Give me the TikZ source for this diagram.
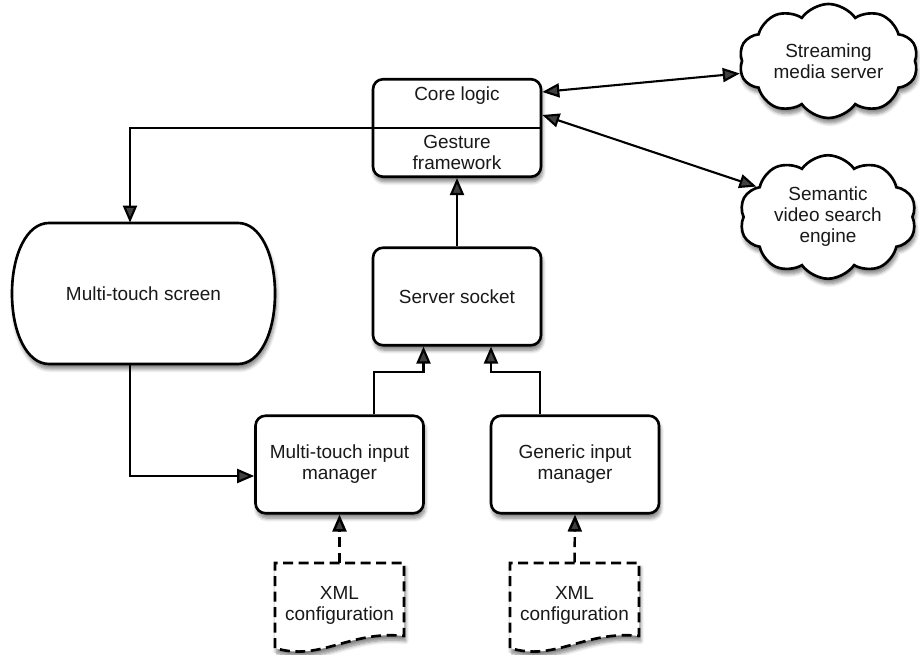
\documentclass[tikz,border=0pt]{standalone}
\usepackage{fontspec}
\setmainfont{Liberation Sans}
\usetikzlibrary{arrows.meta,shapes.symbols,shadows.blur}

\tikzset{
  txt/.style={align=center, text=black!90, font=\fontsize{10.8}{12}\selectfont},
  softshadow/.style={blur shadow={shadow xshift=0.8pt, shadow yshift=-2.8pt, shadow blur steps=7, shadow opacity=50}},
  outline/.style={line width=1.5pt, fill=white, softshadow},
  module/.style={txt, draw, outline, rounded corners=0.2cm,
    minimum width=3.36cm, minimum height=1.95cm},
  service/.style={txt, cloud, cloud puffs=10, cloud puff arc=110, cloud ignores aspect,
    draw, outline},
  link/.style={line width=1.2pt, -{Triangle[length=0.34cm,width=0.28cm]}},
  bilink/.style={line width=1.2pt, {Triangle[length=0.34cm,width=0.28cm]}-{Triangle[length=0.34cm,width=0.28cm]}},
  cfglink/.style={link, line width=1.4pt, dash pattern=on 0.2cm off 0.11cm},
}

\begin{document}
\begin{tikzpicture}
\useasboundingbox (0,0) rectangle (18.4,13.08);

% boxes
\node[module] (core) at (9.14,10.52) {};
\draw[line width=1.2pt] (core.west) -- (core.east);
\node[txt] (corelogic) at (9.14,11.16) {Core logic};
\node[txt] (gesture) at (9.14,10.03) {Gesture\\framework};
\node[module] (socket) at (9.14,7.15) {Server socket};
\node[module] (mtim) at (6.79,3.79) {Multi-touch input\\manager};
\node[module] (geninput) at (11.5,3.79) {Generic input\\manager};

% screen with elliptic ends
\draw[outline] (0.98,8.62) -- (4.76,8.62)
  .. controls (5.2,8.62) and (5.5,8.0) .. (5.5,7.21)
  .. controls (5.5,6.42) and (5.2,5.8) .. (4.76,5.8)
  -- (0.98,5.8)
  .. controls (0.54,5.8) and (0.24,6.42) .. (0.24,7.21)
  .. controls (0.24,8.0) and (0.54,8.62) .. (0.98,8.62) -- cycle;
\node[txt, minimum width=5.26cm, minimum height=2.82cm] (screen) at (2.87,7.21) {Multi-touch screen};

% clouds
\node[service, minimum width=3.58cm, minimum height=2.28cm] (stream) at (16.57,11.86) {Streaming\\media server};
\node[service, minimum width=3.4cm, minimum height=2.2cm] (semantic) at (16.56,8.74) {Semantic\\video search\\engine};

% configuration files
\foreach \nm/\x/\mgr in {xmlA/6.79/mtim, xmlB/11.49/geninput} {
  \draw[outline, dash pattern=on 0.2cm off 0.11cm]
    (\x-1.29,0.12) -- (\x-1.29,1.82) -- (\x+1.29,1.82) -- (\x+1.29,0.36)
    .. controls (\x+0.21,0.48) and (\x-0.39,-0.16) .. (\x-1.29,0.12);
  \node[txt, minimum width=2.58cm, minimum height=1.7cm] (\nm) at (\x,0.97) {XML\\configuration};
  \draw[cfglink] (\nm.north) -- (\mgr.south);
}

% connectors
\draw[link] (socket.north) -- (core.south);
\draw[link] ([xshift=0.69cm]mtim.north) -- ++(0,0.84) -| ([xshift=-0.67cm]socket.south);
\draw[link] ([xshift=-0.7cm]geninput.north) -- ++(0,0.84) -| ([xshift=0.68cm]socket.south);
\draw[link] (core.west) -| ([xshift=-0.27cm]screen.north);
\draw[link] ([xshift=-0.27cm]screen.south) |- ([yshift=-0.23cm]mtim.west);
\draw[bilink] ([yshift=0.72cm]core.east) -- (stream.188);
\draw[bilink] ([yshift=0.26cm]core.east) -- (semantic.157);

\end{tikzpicture}
\end{document}
